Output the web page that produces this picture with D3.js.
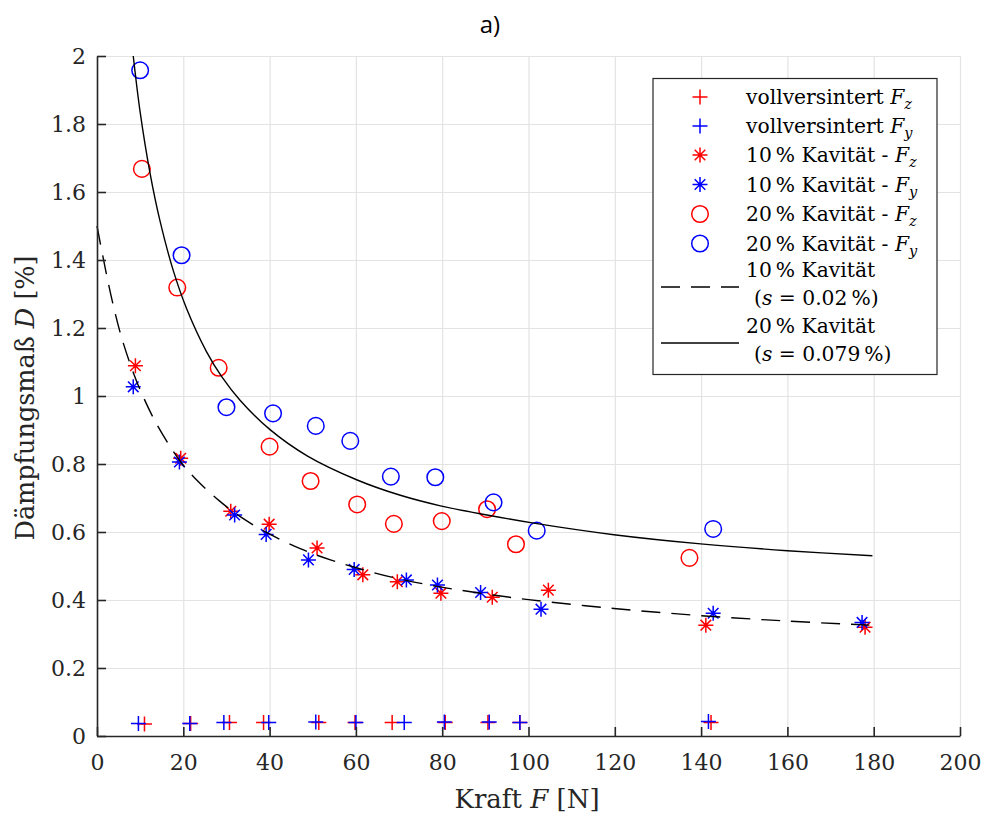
<!DOCTYPE html>
<html>
<head>
<meta charset="utf-8">
<script src="https://cdn.jsdelivr.net/npm/d3@7"></script>
<style>
  body { margin: 0; background: #fff; }
  svg text { fill: #262626; }
  .ser { font-family: "DejaVu Serif", "Liberation Serif", serif; }
</style>
</head>
<body>
<div id="chart"></div>
<script>
// vollversintert (plus markers near the bottom)
var kraftVollFz = [11.0, 21.7, 30.7, 38.6, 51.4, 59.8, 68.4, 80.7, 90.6, 98.0, 142.3];
var dVollFz     = [0.035, 0.037, 0.04, 0.04, 0.04, 0.04, 0.04, 0.04, 0.04, 0.04, 0.04];
var kraftVollFy = [9.6, 21.5, 29.4, 39.8, 50.7, 60.0, 71.2, 80.5, 90.9, 98.0, 141.7];
var dVollFy     = [0.037, 0.037, 0.04, 0.04, 0.041, 0.04, 0.04, 0.041, 0.041, 0.04, 0.043];

// 10 % Kavität
var kraftK10Fz = [8.9, 19.4, 31.0, 39.9, 51.0, 61.6, 69.6, 79.7, 91.6, 104.6, 141.1, 178.0];
var dK10Fz     = [1.089, 0.817, 0.661, 0.623, 0.553, 0.474, 0.454, 0.420, 0.408, 0.429, 0.326, 0.320];
var kraftK10Fy = [8.4, 19.1, 31.9, 39.2, 49.0, 59.6, 71.7, 78.9, 88.9, 102.9, 142.8, 177.3];
var dK10Fy     = [1.027, 0.806, 0.650, 0.593, 0.518, 0.490, 0.459, 0.444, 0.422, 0.373, 0.361, 0.334];

// 20 % Kavität
var kraftK20Fz = [10.4, 18.6, 28.2, 40.0, 49.5, 60.3, 68.8, 79.9, 90.4, 97.1, 137.3];
var dK20Fz     = [1.668, 1.319, 1.083, 0.851, 0.750, 0.681, 0.624, 0.632, 0.667, 0.564, 0.524];
var kraftK20Fy = [10.0, 19.6, 30.0, 40.8, 50.7, 58.7, 68.1, 78.4, 91.9, 101.9, 142.8];
var dK20Fy     = [1.958, 1.414, 0.967, 0.949, 0.912, 0.868, 0.763, 0.761, 0.687, 0.604, 0.609];

// fit curves
var kraftFit10 = [0, 2, 3.8, 5.7, 8.4, 10, 13.8, 19.3, 23.1, 28.5, 33.2, 39.4, 47.1, 54.1, 60.3, 68, 78.8, 88.9, 100, 119.8, 139.9, 160, 179];
var dFit10     = [1.50, 1.37, 1.265, 1.172, 1.069, 1.018, 0.918, 0.808, 0.753, 0.69, 0.645, 0.598, 0.551, 0.518, 0.494, 0.468, 0.44, 0.42, 0.401, 0.375, 0.354, 0.338, 0.326];
var kraftFit20 = [8.4, 10, 12.3, 14.6, 17.7, 20.8, 25.4, 28.9, 33.2, 40.1, 48.7, 60.3, 70.3, 79.6, 90.4, 101.2, 119.8, 139.9, 160, 179.7];
var dFit20     = [2.00, 1.835, 1.655, 1.515, 1.368, 1.256, 1.13, 1.057, 0.987, 0.901, 0.824, 0.753, 0.708, 0.677, 0.65, 0.626, 0.592, 0.565, 0.545, 0.53];

var xTicks = [0, 20, 40, 60, 80, 100, 120, 140, 160, 180, 200];
var yTicks = [0, 0.2, 0.4, 0.6, 0.8, 1, 1.2, 1.4, 1.6, 1.8, 2];

var W = 984, H = 814;
var margin = {left: 97, top: 56, right: 24, bottom: 78};
var w = W - margin.left - margin.right, h = H - margin.top - margin.bottom;
var red = "#ff0000", blue = "#0000ff";

var svg = d3.select('#chart').append('svg')
    .attr('width', W).attr('height', H);

svg.append('text')
    .attr('x', 490).attr('y', 33)
    .attr('text-anchor', 'middle')
    .style('font-family', "'Open Sans', 'Noto Sans', sans-serif")
    .style('font-size', '24px')
    .style('fill', '#000')
    .text('a)');

var g = svg.append('g')
    .attr('transform', 'translate(' + margin.left + ',' + margin.top + ')');

var x = d3.scaleLinear().domain([0, 200]).range([0, w]);
var y = d3.scaleLinear().domain([0, 2]).range([h, 0]);

// grid
g.append('g').attr('transform', 'translate(0,' + h + ')')
    .call(d3.axisBottom(x).tickValues(xTicks).tickSize(-h).tickFormat(''))
    .call(s => s.select('.domain').remove())
    .selectAll('line').attr('stroke', '#e3e3e3').attr('stroke-width', 1.2);
g.append('g')
    .call(d3.axisLeft(y).tickValues(yTicks).tickSize(-w).tickFormat(''))
    .call(s => s.select('.domain').remove())
    .selectAll('line').attr('stroke', '#e3e3e3').attr('stroke-width', 1.2);

// marker paths
var plusPath = 'M-7.5,0H7.5M0,-7.5V7.5';
var d5 = 5.3;
var starPath = plusPath + 'M' + (-d5) + ',' + (-d5) + 'L' + d5 + ',' + d5 + 'M' + (-d5) + ',' + d5 + 'L' + d5 + ',' + (-d5);

function zip(xs, ys) { return xs.map((v, i) => [v, ys[i]]); }

function drawPath(data, color, p) {
    g.append('g').selectAll('path')
        .data(data).enter()
        .append('path')
        .attr('transform', d => 'translate(' + x(d[0]) + ',' + y(d[1]) + ')')
        .attr('d', p)
        .attr('fill', 'none')
        .attr('stroke', color)
        .attr('stroke-width', 1.5);
}
function drawCircles(data, color) {
    g.append('g').selectAll('circle')
        .data(data).enter()
        .append('circle')
        .attr('cx', d => x(d[0]))
        .attr('cy', d => y(d[1]))
        .attr('r', 8.3)
        .attr('fill', 'none')
        .attr('stroke', color)
        .attr('stroke-width', 1.5);
}

drawPath(zip(kraftVollFz, dVollFz), red, plusPath);
drawPath(zip(kraftVollFy, dVollFy), blue, plusPath);
drawPath(zip(kraftK10Fz, dK10Fz), red, starPath);
drawPath(zip(kraftK10Fy, dK10Fy), blue, starPath);
drawCircles(zip(kraftK20Fz, dK20Fz), red);
drawCircles(zip(kraftK20Fy, dK20Fy), blue);

var line = d3.line()
    .x(d => x(d[0])).y(d => y(d[1]))
    .curve(d3.curveCatmullRom.alpha(0.5));

g.append('path')
    .datum(zip(kraftFit10, dFit10))
    .attr('d', line)
    .attr('fill', 'none').attr('stroke', '#000')
    .attr('stroke-width', 1.4)
    .attr('stroke-dasharray', '19,11');
g.append('path')
    .datum(zip(kraftFit20, dFit20))
    .attr('d', line)
    .attr('fill', 'none').attr('stroke', '#000')
    .attr('stroke-width', 1.4);

// axes
var xAxis = g.append('g').attr('transform', 'translate(0,' + h + ')')
    .call(d3.axisBottom(x).tickValues(xTicks).tickSize(-9).tickSizeOuter(0).tickPadding(18));
var yAxis = g.append('g')
    .call(d3.axisLeft(y).tickValues(yTicks).tickSize(-9).tickSizeOuter(0).tickPadding(11)
        .tickFormat(d3.format('~g')));
[xAxis, yAxis].forEach(a => {
    a.attr('font-family', null).attr('font-size', null);
    a.select('.domain').attr('stroke', '#262626').attr('stroke-width', 1.6);
    a.selectAll('.tick line').attr('stroke', '#262626').attr('stroke-width', 1.6);
    a.selectAll('text').attr('class', 'ser')
        .style('font-size', '22px').style('fill', '#262626');
});

// axis labels
var xl = svg.append('text').attr('class', 'ser')
    .attr('x', 527).attr('y', 808)
    .attr('text-anchor', 'middle')
    .style('font-size', '26px');
xl.append('tspan').text('Kraft ');
xl.append('tspan').style('font-style', 'italic').text('F');
xl.append('tspan').text(' [N]');

var yl = svg.append('text').attr('class', 'ser')
    .attr('transform', 'translate(34,398) rotate(-90)')
    .attr('text-anchor', 'middle')
    .style('font-size', '25.5px');
yl.append('tspan').text('Dämpfungsmaß ');
yl.append('tspan').style('font-style', 'italic').text('D');
yl.append('tspan').text(' [%]');

// legend
var lg = svg.append('g');
lg.append('rect')
    .attr('x', 653).attr('y', 78.5).attr('width', 284).attr('height', 296)
    .attr('fill', '#fff').attr('stroke', '#262626').attr('stroke-width', 1.2);

var legRows = [
    {label: 'vollversintert ', sub: 'z', color: red, mark: plusPath, y: 97},
    {label: 'vollversintert ', sub: 'y', color: blue, mark: plusPath, y: 126},
    {label: '10\u202F% Kavität - ', sub: 'z', color: red, mark: starPath, y: 155},
    {label: '10\u202F% Kavität - ', sub: 'y', color: blue, mark: starPath, y: 184.5},
    {label: '20\u202F% Kavität - ', sub: 'z', color: red, mark: 'circle', y: 214},
    {label: '20\u202F% Kavität - ', sub: 'y', color: blue, mark: 'circle', y: 243.5}
];
var legFont = '20.3px';
legRows.forEach(r => {
    if (r.mark === 'circle') {
        lg.append('circle').attr('cx', 700).attr('cy', r.y).attr('r', 8.3)
            .attr('fill', 'none').attr('stroke', r.color).attr('stroke-width', 1.5);
    } else {
        lg.append('path').attr('transform', 'translate(700,' + r.y + ')')
            .attr('d', r.mark).attr('fill', 'none')
            .attr('stroke', r.color).attr('stroke-width', 1.5);
    }
    var t = lg.append('text').attr('class', 'ser').attr('x', 746).attr('y', r.y + 7)
        .style('font-size', legFont).style('fill', '#000');
    t.append('tspan').text(r.label);
    t.append('tspan').style('font-style', 'italic').text('F');
    t.append('tspan').attr('dy', 5).style('font-style', 'italic').style('font-size', '14.5px').text(r.sub);
});

var fitRows = [
    {l1: '10\u202F% Kavität', l2: '0.02\u202F%)', dash: '19,11', y: 287},
    {l1: '20\u202F% Kavität', l2: '0.079\u202F%)', dash: null, y: 343}
];
fitRows.forEach(r => {
    var ln = lg.append('line').attr('x1', 661).attr('x2', 739)
        .attr('y1', r.y).attr('y2', r.y)
        .attr('stroke', '#000').attr('stroke-width', 1.4);
    if (r.dash) ln.attr('stroke-dasharray', r.dash);
    lg.append('text').attr('class', 'ser').attr('x', 746).attr('y', r.y - 10)
        .style('font-size', legFont).style('fill', '#000')
        .text(r.l1);
    var t = lg.append('text').attr('class', 'ser').attr('x', 754).attr('y', r.y + 18)
        .style('font-size', legFont).style('fill', '#000');
    t.append('tspan').text('(');
    t.append('tspan').style('font-style', 'italic').text('s');
    t.append('tspan').text(' = ' + r.l2);
});
</script>
</body>
</html>
